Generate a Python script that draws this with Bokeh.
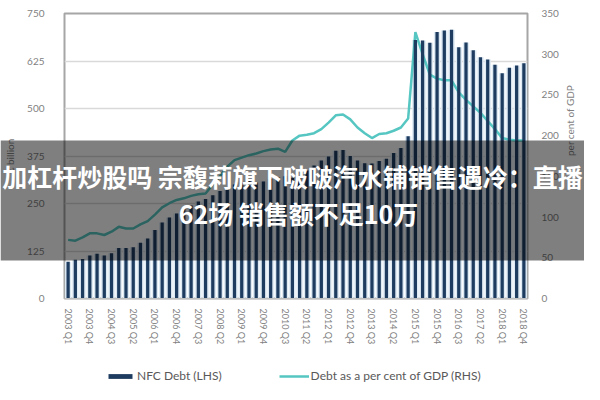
import math
from bokeh.plotting import figure
from bokeh.models import (Range1d, LinearAxis, FixedTicker, Legend, LegendItem,
                          ColumnDataSource)
from bokeh.core.properties import value
from bokeh.embed import file_html
from bokeh.resources import INLINE

# ---------------- data ----------------
quarters = [f"{y} Q{q}" for y in range(2003, 2019) for q in range(1, 5)]

nfc_debt = [97, 102, 104, 113, 118, 113, 119, 133, 133, 135,
            147, 158, 180, 200, 213, 224, 237, 245, 255, 262,
            272, 283, 290, 300, 305, 312, 305, 308, 315, 320, 322, 318,
            324, 337, 350, 363, 374, 389, 391, 375, 363, 356, 355, 362,
            368, 383, 396, 427,
            680, 679, 673, 701, 705, 707, 661, 674, 653, 635, 629, 615,
            593, 607, 613, 619]

debt_pct_gdp = [72, 71, 75, 80, 80, 78, 82, 88, 86, 86,
                91, 95, 103, 112, 117, 121, 123, 126, 128, 129,
                140, 150, 162, 170, 173, 176, 178, 181, 183, 184, 180, 194,
                200, 201, 203, 208, 216, 225, 226, 220, 210, 203, 197, 202,
                203, 206, 210, 221,
                327, 300, 275, 270, 268, 268, 253, 244, 236, 228, 218, 208,
                197, 195, 194, 194]

left_ticks = [0, 125, 250, 375, 500, 625, 750]
right_ticks = [0, 50, 100, 150, 200, 250, 300, 350]
x_tick_idx = list(range(0, 64, 3))

legend_labels = ["NFC Debt (LHS)", "Debt as a per cent of GDP (RHS)"]
left_label = "€ billion"
right_label = "per cent of GDP"
banner_lines = ["加杠杆炒股吗 宗馥莉旗下啵啵汽水铺销售遇冷：直播", "62场 销售额不足10万"]

# ---------------- styling ----------------
W, H = 584, 384
FONT = "Lato"
GREY = "#7f7f7f"
NAVY = "#1e3c60"
TEAL = "#55c6c1"

src = ColumnDataSource(dict(x=list(range(len(quarters))), debt=nfc_debt, pct=debt_pct_gdp))

p = figure(width=W, height=H, output_backend="svg", toolbar_location=None,
           x_range=Range1d(-0.5, len(quarters) - 0.5), y_range=Range1d(0, 750),
           min_border_left=64, min_border_right=54, min_border_top=13, min_border_bottom=86)
p.extra_y_ranges = {"pct": Range1d(0, 350)}

p.outline_line_color = "#a6a6a6"
p.outline_line_width = 2
p.background_fill_color = "white"
p.border_fill_color = "white"

# left axis
ya = p.yaxis[0]
ya.ticker = FixedTicker(ticks=left_ticks)
ya.axis_line_color = None
ya.major_tick_line_color = None
ya.minor_tick_line_color = None
ya.major_label_text_color = GREY
ya.major_label_text_font = FONT
ya.major_label_text_font_size = "10px"
ya.major_label_standoff = 14
ya.axis_label = left_label
ya.axis_label_text_font = FONT
ya.axis_label_text_font_style = "normal"
ya.axis_label_text_font_size = "10px"
ya.axis_label_text_color = GREY
ya.axis_label_standoff = 8

# right axis
ra = LinearAxis(y_range_name="pct", ticker=FixedTicker(ticks=right_ticks))
ra.axis_line_color = None
ra.major_tick_line_color = None
ra.minor_tick_line_color = None
ra.major_label_text_color = GREY
ra.major_label_text_font = FONT
ra.major_label_text_font_size = "10px"
ra.major_label_standoff = 8
ra.axis_label = right_label
ra.axis_label_orientation = math.pi / 2
ra.axis_label_text_font = FONT
ra.axis_label_text_font_style = "normal"
ra.axis_label_text_font_size = "10px"
ra.axis_label_text_color = GREY
ra.axis_label_standoff = 8
p.add_layout(ra, "right")

# bottom axis
xa = p.xaxis[0]
xa.ticker = FixedTicker(ticks=x_tick_idx)
xa.major_label_overrides = {i: quarters[i] for i in x_tick_idx}
xa.major_label_orientation = "vertical"
xa.axis_line_color = "#bfbfbf"
xa.major_tick_line_color = None
xa.minor_tick_line_color = None
xa.major_label_text_color = GREY
xa.major_label_text_font = FONT
xa.major_label_text_font_size = "9px"
xa.major_label_standoff = 4

p.xgrid.grid_line_color = None
p.ygrid.grid_line_color = "#d9d9d9"
p.ygrid.grid_line_width = 1.5

# bars (pale body) -> line -> dark bars on top
p.vbar(x="x", top="debt", width=0.88, source=src, fill_color="#dde9f3", line_color=None)
p.line(x="x", y="pct", source=src, y_range_name="pct", line_color=TEAL, line_width=2.5)
p.vbar(x="x", top="debt", width=0.45, source=src, fill_color=NAVY, line_color=None)

# ---------------- transparent overlay (banner + legend), separate root laid over the chart ----------------
ov = figure(width=W, height=H, output_backend="svg", toolbar_location=None,
            x_range=Range1d(0, W), y_range=Range1d(H, 0),
            x_axis_type=None, y_axis_type=None,
            min_border_left=0, min_border_right=0, min_border_top=0, min_border_bottom=0)
ov.grid.visible = False
ov.outline_line_color = None
ov.background_fill_alpha = 0
ov.border_fill_alpha = 0
ov.margin = (-H, 0, 0, 0)

# grey banner band (pixel-like coordinates from the top)
ov.quad(left=[0], right=[W], top=[140], bottom=[260], fill_color="black",
        fill_alpha=0.5, line_color=None)
ov.text(x=[292, 298], y=[175, 212], text=banner_lines,
        text_align="center", text_baseline="middle", text_color="white",
        text_font=value("Noto Sans CJK SC"), text_font_style="bold",
        text_font_size="25px")

# legend swatches: renderers placed far outside the visible range
far = ColumnDataSource(dict(x=[-1000, -999], top=[-1000, -1000], y=[-1000, -1000]))
sw_bar = ov.vbar(x="x", top="top", width=0.5, source=far, fill_color=NAVY, line_color=None)
sw_line = ov.line(x="x", y="y", source=far, line_color=TEAL, line_width=2.5)
leg = Legend(items=[LegendItem(label=legend_labels[0], renderers=[sw_bar]),
                    LegendItem(label=legend_labels[1], renderers=[sw_line])],
             orientation="horizontal", location=(105, 1),
             border_line_color=None, background_fill_alpha=0,
             glyph_width=30, glyph_height=6, label_height=12, spacing=57,
             padding=0, margin=0, label_standoff=2,
             label_text_font=FONT, label_text_font_size="12px",
             label_text_color="#595959")
ov.add_layout(leg)

open("out.html", "w").write(file_html([p, ov], INLINE))
